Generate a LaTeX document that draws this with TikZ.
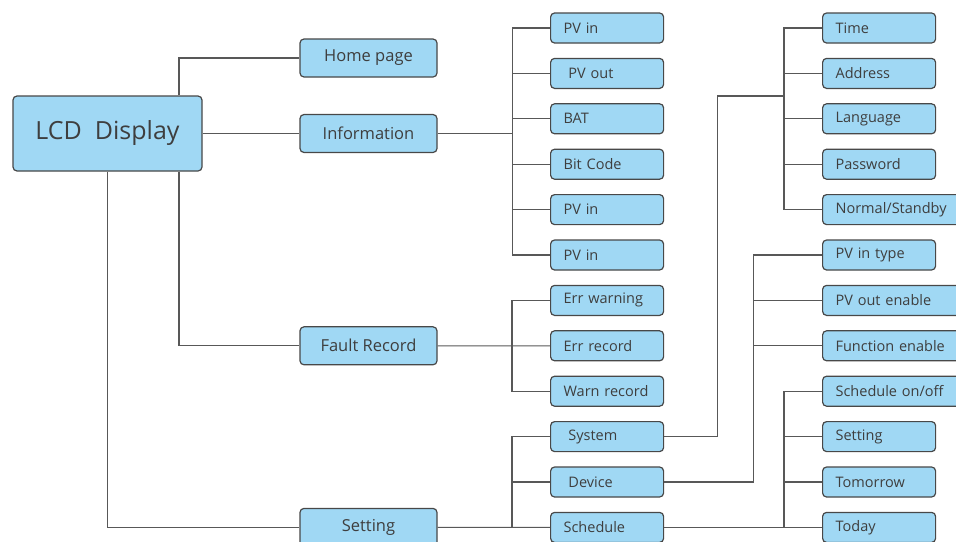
\documentclass[tikz,border=0pt]{standalone}
\usepackage{fontspec}
\setmainfont{Open Sans}
\definecolor{boxfill}{RGB}{160,216,244}
\definecolor{boxline}{RGB}{72,72,72}
\definecolor{txt}{RGB}{62,62,62}
\definecolor{wirec}{RGB}{88,88,88}
\usetikzlibrary{positioning}
\tikzset{
  box/.style={draw=boxline,line width=1.2pt,rounded corners=4pt,fill=boxfill,text=txt,
              inner sep=0pt},
  rootbox/.style={box,minimum width=189pt,minimum height=75pt,font=\fontsize{25}{29}\selectfont},
  topic/.style={box,minimum width=137pt,minimum height=38pt,font=\fontsize{16.5}{20}\selectfont},
  leaf/.style={box,minimum height=30pt,inner xsep=13pt,text width=87pt,align=left,
               font=\fontsize{14.5}{17}\selectfont},
  wideleaf/.style={leaf,text width=130pt},
  wire/.style={draw=wirec,line width=1.1pt},
}

\begin{document}
\begin{tikzpicture}[x=1pt,y=-1pt,node distance=14.2pt]
  \clip (0,0) rectangle (956,541);
  \fill[white] (0,0) rectangle (956,541);

  % root and first level
  \node[rootbox] (lcd) at (107.5,133.5) {LCD\ \ Display};
  \node[topic] (home) at (368.5,58) {Home page};
  \node[topic] (info) at (368.5,133.5) {Information};
  \node[topic] (fault) at (368.5,345.8) {Fault Record};
  \node[topic] (setting) at (368.5,527.4) {Setting};

  % second level
  \node[leaf,anchor=west] (pvinA) at (550,28) {PV in};
  \node[leaf,below=of pvinA] (pvout) {\,\,PV out};
  \node[leaf,below=of pvout] (bat) {BAT};
  \node[leaf,below=of bat] (bitcode) {Bit Code};
  \node[leaf,below=of bitcode] (pvinB) {PV in};
  \node[leaf,below=of pvinB] (pvinC) {PV in};
  \node[leaf,below=of pvinC] (errwarn) {Err warning};
  \node[leaf,below=of errwarn] (errrec) {Err record};
  \node[leaf,below=of errrec] (warnrec) {Warn record};
  \node[leaf,below=of warnrec] (system) {\,\,System};
  \node[leaf,below=of system] (device) {\,\,Device};
  \node[leaf,below=of device] (schedule) {Schedule};

  % third level
  \node[leaf,anchor=west] (time) at (822,28) {Time};
  \node[leaf,below=of time] (address) {Address};
  \node[leaf,below=of address] (language) {Language};
  \node[leaf,below=of language] (password) {Password};
  \node[wideleaf,below=of password.south west,anchor=north west] (standby) {Normal/Standby};
  \node[leaf,below=of standby.south west,anchor=north west] (pvintype) {PV in type};
  \node[wideleaf,below=of pvintype.south west,anchor=north west] (pvoutena) {PV out enable};
  \node[wideleaf,below=of pvoutena] (funcena) {Function enable};
  \node[wideleaf,below=of funcena] (schedon) {Schedule on/off};
  \node[leaf,below=of schedon.south west,anchor=north west] (setsub) {Setting};
  \node[leaf,below=of setsub] (tomorrow) {Tomorrow};
  \node[leaf,below=of tomorrow] (today) {Today};

  % root links
  \draw[wire] ([xshift=71.5pt]lcd.north) |- (home);
  \draw[wire] (lcd) -- (info);
  \draw[wire] ([xshift=71.5pt]lcd.south) |- (fault);
  \draw[wire] (lcd.south) |- (setting);

  % information
  \draw[wire] (info.east) -- ++(75,0) coordinate (infoj);
  \draw[wire] (pvinA) -| (infoj) |- (pvinC);
  \draw[wire] (infoj |- pvout) -- (pvout);
  \draw[wire] (infoj |- bat) -- (bat);
  \draw[wire] (infoj |- bitcode) -- (bitcode);
  \draw[wire] (infoj |- pvinB) -- (pvinB);

  % fault record
  \draw[wire] (fault) -- (errrec);
  \coordinate (faultj) at (512,345.8);
  \draw[wire] (errwarn) -| (faultj) |- (warnrec);

  % setting
  \draw[wire] (setting) -- (schedule);
  \coordinate (setj) at (512,527.4);
  \draw[wire] (system) -| (setj);
  \draw[wire] (setj |- device) -- (device);

  % system
  \coordinate (sysj) at (784,96);
  \draw[wire] (system.east) -- ++(53,0) |- (sysj);
  \draw[wire] (time) -| (sysj) |- (standby);
  \draw[wire] (sysj |- address) -- (address);
  \draw[wire] (sysj |- language) -- (language);
  \draw[wire] (sysj |- password) -- (password);

  % device
  \draw[wire] (device.east) -- ++(89,0) coordinate (devj) |- (pvintype);
  \draw[wire] (devj |- pvoutena) -- (pvoutena);
  \draw[wire] (devj |- funcena) -- (funcena);

  % schedule
  \draw[wire] (schedule) -- (today);
  \coordinate (schj) at (784,527.4);
  \draw[wire] (schedon) -| (schj);
  \draw[wire] (schj |- setsub) -- (setsub);
  \draw[wire] (schj |- tomorrow) -- (tomorrow);
\end{tikzpicture}
\end{document}
